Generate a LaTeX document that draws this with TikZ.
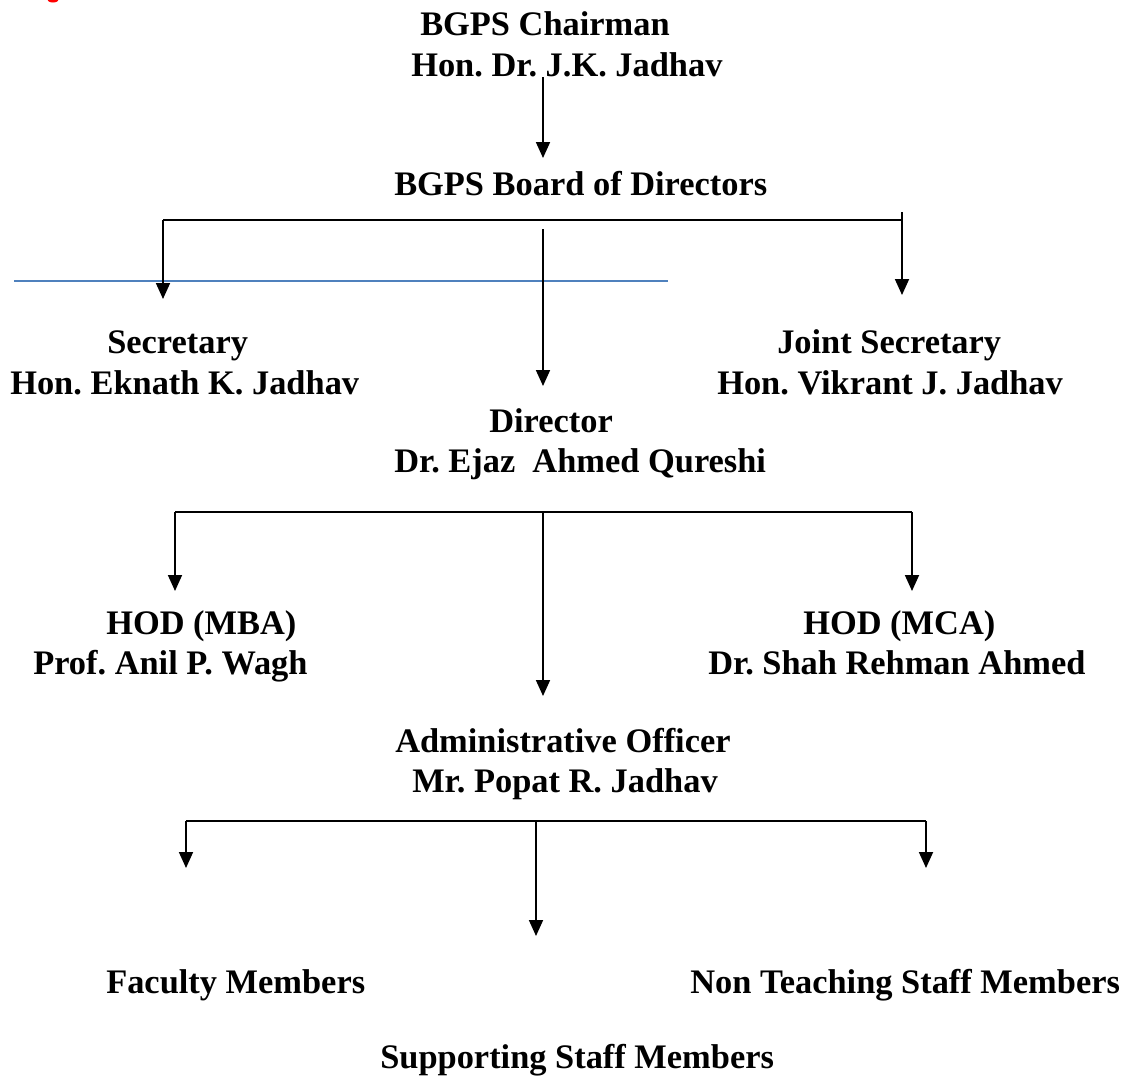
\documentclass[tikz,border=0pt]{standalone}
\usepackage{fontspec}
\setmainfont{Liberation Serif}
\usetikzlibrary{arrows.meta}
\definecolor{rulerblue}{RGB}{79,129,189}
\frenchspacing
\begin{document}
\begin{tikzpicture}[x=0.75pt,y=-0.75pt,
  lbl/.style={anchor=base west,inner sep=0pt,font=\fontsize{25.8}{30}\selectfont\bfseries},
  arr/.style={line width=1.3pt,-{Triangle[width=10.5pt,length=12pt]}},
  ln/.style={line width=1.3pt}]
\useasboundingbox[fill=white] (0,0) rectangle (1134,1076);
% red fragment at top-left edge
\fill[red] (53,-1) ellipse (6 and 3.5);
% stray blue rule
\draw[rulerblue,line width=0.8pt] (14,281) -- (668,281);
% texts
\node[lbl] (ch1) at (420,35) {BGPS Chairman};
\node[lbl] (ch2) at (411,76) {Hon. Dr. J.K. Jadhav};
\node[lbl] (bod) at (394,195) {BGPS Board of Directors};
\node[lbl] (sec1) at (107,353) {Secretary};
\node[lbl] (sec2) at (10,394) {Hon. Eknath K. Jadhav};
\node[lbl] (js1) at (777,353) {Joint Secretary};
\node[lbl] (js2) at (717,394) {Hon. Vikrant J. Jadhav};
\node[lbl] (dir1) at (489,432) {Director};
\node[lbl] (dir2) at (394,472) {Dr. Ejaz\ \ Ahmed Qureshi};
\node[lbl] (mba1) at (106,634) {HOD (MBA)};
\node[lbl] (mba2) at (33,674) {Prof. Anil P. Wagh};
\node[lbl] (mca1) at (803,634) {HOD (MCA)};
\node[lbl] (mca2) at (708,674) {Dr. Shah Rehman Ahmed};
\node[lbl] (ao1) at (395,752) {Administrative Officer};
\node[lbl] (ao2) at (412,792) {Mr. Popat R. Jadhav};
\node[lbl] (fac) at (106,993) {Faculty Members};
\node[lbl] (ntsm) at (690,993) {Non Teaching Staff Members};
\node[lbl] (ssm) at (380,1068) {Supporting Staff Members};
% connector end points
\coordinate (c1s) at (543,77);   \coordinate (c1e) at (543,158);
\coordinate (b0) at (543,229);   \coordinate (b0e) at (543,386);
\coordinate (bl) at (163,220);   \coordinate (ble) at (163,299);
\coordinate (br) at (902,220);   \coordinate (brt) at (902,212); \coordinate (bre) at (902,295);
\coordinate (d0) at (543,512);   \coordinate (d0e) at (543,696);
\coordinate (dl) at (175,512);   \coordinate (dle) at (175,591);
\coordinate (dr) at (912,512);   \coordinate (dre) at (912,591);
\coordinate (a0) at (536,821);   \coordinate (a0e) at (536,936);
\coordinate (al) at (186,821);   \coordinate (ale) at (186,868);
\coordinate (ar) at (926,821);   \coordinate (are) at (926,868);
% chairman -> board
\draw[arr] (c1s) -- (c1e);
% board fork
\draw[ln] (bl) -- (br);
\draw[arr] (bl) -- (ble);
\draw[arr] (brt) -- (bre);
\draw[arr] (b0) -- (b0e);
% director fork
\draw[ln] (dl) -- (dr);
\draw[arr] (dl) -- (dle);
\draw[arr] (dr) -- (dre);
\draw[arr] (d0) -- (d0e);
% admin fork
\draw[ln] (al) -- (ar);
\draw[arr] (al) -- (ale);
\draw[arr] (ar) -- (are);
\draw[arr] (a0) -- (a0e);
\end{tikzpicture}
\end{document}
